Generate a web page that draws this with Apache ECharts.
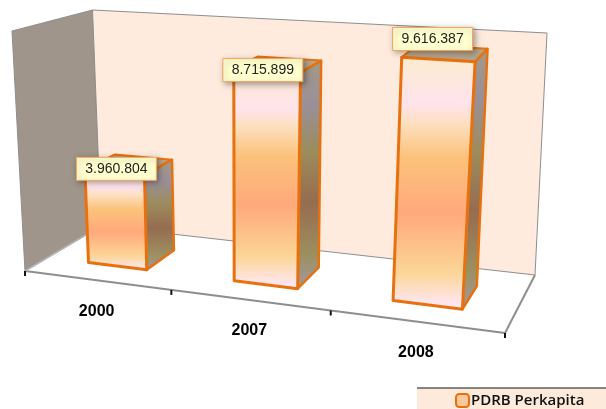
<!DOCTYPE html>
<html><head><meta charset="utf-8">
<style>html,body{margin:0;padding:0;background:#fff}#c{width:606px;height:409px}</style>
<script src="https://cdn.jsdelivr.net/npm/echarts@6/dist/echarts.min.js"></script>
</head><body><div id="c"></div>
<script>
const categories = ['2000', '2007', '2008'];
const seriesValues = [3960804, 8715899, 9616387];
const seriesName = 'PDRB Perkapita';
const valueMax = 10000000;

// Perspective frame of the 3D box (layout only)
const FBL = [25, 271], FBR = [505, 333], BBL = [101, 226], BBR = [535, 275];
const FTL = [12, 31], FTR = [523, 65], BTL = [92.5, 10], BTR = [547, 33];
const PERSP = 1.14, D0 = 0.3, D1 = 0.71, BAR_FRAC = 0.41;
const labelShift = [[2, 9], [-4, 12], [-5.5, -8]];
const lerp = (a, b, t) => [a[0] + (b[0] - a[0]) * t, a[1] + (b[1] - a[1]) * t];
function project(u, d, h) {
  const t = u / (u + (1 - u) * PERSP);
  const bot = lerp(lerp(FBL, FBR, t), lerp(BBL, BBR, t), d);
  const top = lerp(lerp(FTL, FTR, t), lerp(BTL, BTR, t), d);
  return lerp(bot, top, h);
}
const vgrad = stops => ({type: 'linear', x: 0, y: 0, x2: 0, y2: 1,
  colorStops: stops.map(s => ({offset: s[0], color: s[1]}))});
const frontFill = vgrad([[0, '#FBEBCE'], [0.19, '#FFE3EC'], [0.26, '#FDE0C2'], [0.4, '#FBC27A'],
  [0.62, '#FFA97C'], [0.85, '#FBD596'], [0.97, '#FFE6EE'], [1, '#FFE9F2']]);
const sideFill = vgrad([[0, '#A39A86'], [0.2, '#9A8F98'], [0.4, '#9C8C5C'], [0.62, '#966C50'],
  [0.85, '#9C9060'], [1, '#A09AA6']]);
const ORANGE = '#E8710F';
const poly = (pts, style, z2) => ({type: 'polygon', shape: {points: pts}, style, z2: z2 || 0});
const seg = (a, b, stroke, w, z2) => ({type: 'line', shape: {x1: a[0], y1: a[1], x2: b[0], y2: b[1]},
  style: {stroke, lineWidth: w, fill: null}, z2: z2 || 0});

function renderFrame(params, api) {
  const P = project;
  const gray = '#8E8E8E';
  const kids = [
    poly([P(0,0,1), P(0,1,1), P(0,1,0), P(0,0,0)], {fill: '#A0958B', stroke: gray, lineWidth: 1}),
    poly([P(0,1,1), P(1,1,1), P(1,1,0), P(0,1,0)], {fill: '#FEEBDD', stroke: gray, lineWidth: 1}),
    seg(P(0,0,0), P(1,0,0), gray, 2),
    seg(P(1,0,0), P(1,1,0), gray, 2),
    seg(P(0,0,0), P(0,1,0), '#B5B5B5', 1.5)
  ];
  for (let i = 0; i <= categories.length; i++) {
    const p = P(i / categories.length, 0, 0);
    kids.push(seg([p[0], p[1]], [p[0], p[1] + 5], '#111', 2));
  }
  categories.forEach((c, i) => {
    const p = P((i + 0.5) / categories.length, 0, 0);
    kids.push({type: 'text', style: {text: c, x: p[0], y: p[1] + 31, align: 'center', verticalAlign: 'middle',
      font: 'bold 16px "Liberation Sans", Arial, sans-serif', fill: '#000'}});
  });
  return {type: 'group', children: kids};
}

function renderBar(params, api) {
  const i = params.dataIndex, cs = params.coordSys;
  const c = api.coord([api.value(0), api.value(1)]);
  const w = api.size([1, 0])[0] * BAR_FRAC;
  const uL = (c[0] - w / 2 - cs.x) / cs.width, uR = (c[0] + w / 2 - cs.x) / cs.width;
  const h = (cs.y + cs.height - c[1]) / cs.height;
  const edge = {stroke: ORANGE, lineJoin: 'round'};
  const P = project;
  const top = P((uL + uR) / 2, D0, h);
  const text = String(api.value(1)).replace(/\B(?=(\d{3})+$)/g, '.');
  const lx = top[0] + labelShift[i][0], ly = top[1] + labelShift[i][1] - 12;
  return {type: 'group', children: [
    poly([P(uL,D0,h), P(uR,D0,h), P(uR,D1,h), P(uL,D1,h)], {fill: '#B3A48C', lineWidth: 2, ...edge}, 1),
    poly([P(uR,D0,h), P(uR,D1,h), P(uR,D1,0), P(uR,D0,0)], {fill: sideFill, lineWidth: 2.5, ...edge}, 1),
    poly([P(uL,D0,h), P(uR,D0,h), P(uR,D0,0), P(uL,D0,0)], {fill: frontFill, lineWidth: 3, ...edge}, 2),
    {type: 'rect', shape: {x: lx - 40, y: ly - 12, width: 80, height: 23},
      style: {fill: '#FFFFCF', stroke: '#F4A460', lineWidth: 1, shadowBlur: 6, shadowOffsetX: 2, shadowOffsetY: 2,
        shadowColor: 'rgba(0,0,0,0.35)'}, z2: 5},
    {type: 'text', style: {text, x: lx, y: ly, align: 'center', verticalAlign: 'middle',
      font: '14px "Liberation Sans", Arial, sans-serif', fill: '#222'}, z2: 6}
  ]};
}

const chart = echarts.init(document.getElementById('c'), null, {renderer: 'canvas'});
chart.setOption({
  animation: false,
  backgroundColor: '#fff',
  grid: {left: 0, right: 0, top: 0, bottom: 0},
  xAxis: {type: 'category', data: categories, show: false},
  yAxis: {type: 'value', min: 0, max: valueMax, show: false},
  legend: {data: [seriesName], left: 417, top: 388, padding: [5, 22, 3, 38], itemGap: 0, itemWidth: 13, itemHeight: 13,
    backgroundColor: '#FDEADA', borderWidth: 0,
    textStyle: {fontFamily: '"Open Sans", sans-serif', fontSize: 15, fontWeight: 600, color: '#111', padding: [0, 0, 0, -3]},
    selectedMode: false},
  graphic: [{type: 'line', shape: {x1: 417, y1: 388, x2: 606, y2: 388}, style: {stroke: '#111', lineWidth: 1}, z: 100}],
  series: [
    {type: 'custom', silent: true, z: 1, renderItem: renderFrame, data: [[0, 0]], encode: {x: 0, y: 1}, clip: false},
    {type: 'custom', name: seriesName, z: 2, renderItem: renderBar, clip: false,
      itemStyle: {color: '#F9C89B', borderColor: ORANGE, borderWidth: 3},
      encode: {x: 0, y: 1}, data: seriesValues.map((v, i) => [i, v])}
  ]
});
</script></body></html>
